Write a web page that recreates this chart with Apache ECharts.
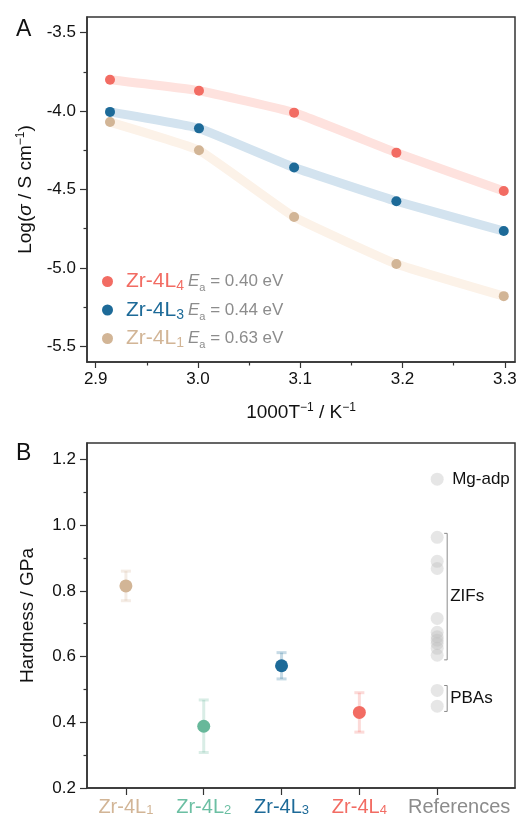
<!DOCTYPE html>
<html>
<head>
<meta charset="utf-8">
<script src="https://cdn.jsdelivr.net/npm/echarts@6/dist/echarts.min.js"></script>
<style>
html,body{margin:0;padding:0;background:#fff;}
#chart{width:518px;height:818px;}
</style>
</head>
<body>
<div id="chart"></div>
<script>
// ---- Panel A data ----
const invT = [2.914, 3.001, 3.094, 3.194, 3.299];
const logL4 = [-3.80, -3.87, -4.01, -4.265, -4.51];
const logL3 = [-4.005, -4.11, -4.36, -4.575, -4.765];
const logL1 = [-4.07, -4.25, -4.675, -4.975, -5.18];
const seriesNames = ['Zr-4L4', 'Zr-4L3', 'Zr-4L1'];
const eaValues = ['0.40', '0.44', '0.63'];
const xTicksA = [2.9, 3.0, 3.1, 3.2, 3.3];
const xMinorA = [2.95, 3.05, 3.15, 3.25];
const yTicksA = [-5.5, -5.0, -4.5, -4.0, -3.5];
const yMinorA = [-5.25, -4.75, -4.25, -3.75];

// ---- Panel B data ----
const hardCats = ['Zr-4L1', 'Zr-4L2', 'Zr-4L3', 'Zr-4L4', 'References'];
const hardness = [0.815, 0.388, 0.572, 0.430];
const hardErr = [0.045, 0.08, 0.04, 0.06];
const refHardness = [1.14, 0.963, 0.89, 0.868, 0.716, 0.674, 0.66, 0.65, 0.64, 0.625, 0.604, 0.497, 0.449];
const refGroups = ['Mg-adp', 'ZIFs', 'PBAs'];
const refLo = [1.14, 0.59, 0.433];
const refHi = [1.14, 0.975, 0.512];
const yTicksB = [0.2, 0.4, 0.6, 0.8, 1.0, 1.2];
const yMinorB = [0.3, 0.5, 0.7, 0.9, 1.1];
const catPositions = [1, 2, 3, 4, 5];
const sampleCatPositions = [1, 2, 3, 4];
const refCatPosition = [5];

// ---- styling ----
const FONT = '"Liberation Sans", Arial, sans-serif';
const C_RED = '#f26c63', C_BLUE = '#1d6a98', C_TAN = '#d2b596', C_GREEN = '#67b89a', C_GREY = '#8c8c8c';
const PALE = { red: '#fee2de', blue: '#d3e3ef', tan: '#fcf2e8' };
const AX = '#333333';
const catColors = [C_TAN, '#6cbfa3', C_BLUE, C_RED, C_GREY];
const ptColors = [C_TAN, C_GREEN, C_BLUE, C_RED];
const errColors = ['rgba(210,181,150,0.25)', 'rgba(103,184,154,0.25)', 'rgba(29,106,152,0.25)', 'rgba(242,108,99,0.25)'];

const legendKey = { 'Zr-4L4': 'r', 'Zr-4L3': 'b', 'Zr-4L1': 't' };
const legendColor = { r: C_RED, b: C_BLUE, t: C_TAN };

function legendRich() {
  const rich = {};
  Object.keys(legendColor).forEach(k => {
    rich[k] = { color: legendColor[k], fontSize: 21, fontFamily: FONT, lineHeight: 24, padding: [0, 0, 0, 8] };
    rich[k + 's'] = { color: legendColor[k], fontSize: 14, fontFamily: FONT, verticalAlign: 'bottom', lineHeight: 12 };
  });
  rich.e = { color: C_GREY, fontSize: 17, fontStyle: 'italic', fontFamily: FONT, lineHeight: 24, padding: [0, 0, 0, 4] };
  rich.es = { color: C_GREY, fontSize: 11, fontFamily: FONT, verticalAlign: 'bottom', lineHeight: 14 };
  rich.g = { color: C_GREY, fontSize: 17, fontFamily: FONT, lineHeight: 24 };
  return rich;
}

const axisLineStyle = { show: true, lineStyle: { color: AX, width: 1.5 } };

function minorAxis(base) {
  return Object.assign({
    axisLine: { show: false },
    axisLabel: { show: false },
    splitLine: { show: false }
  }, base);
}

const catRich = {};
catColors.forEach((c, i) => {
  catRich['c' + i] = { color: c, fontSize: 20, fontFamily: FONT };
  catRich['s' + i] = { color: c, fontSize: 13, fontFamily: FONT, verticalAlign: 'bottom', lineHeight: 10 };
});
catRich.c4.padding = [0, 0, 0, 44];

function catLabel(v) {
  const i = Math.round(v) - 1;
  const name = hardCats[i];
  if (!name) return '';
  const m = name.match(/^(Zr-4L)(\d)$/);
  if (m) return '{c' + i + '|' + m[1] + '}{s' + i + '|' + m[2] + '}';
  return '{c' + i + '|' + name + '}';
}

const chart = echarts.init(document.getElementById('chart'), null, { renderer: 'canvas' });

const option = {
  animation: false,
  backgroundColor: '#fff',
  title: [
    { text: 'A', left: 11, top: 13, textStyle: { fontSize: 23, fontWeight: 'normal', color: '#111', fontFamily: FONT } },
    { text: 'B', left: 11, top: 437, textStyle: { fontSize: 23, fontWeight: 'normal', color: '#111', fontFamily: FONT } }
  ],
  grid: [
    { left: 87, right: 3, top: 17, bottom: 456, show: true, borderColor: AX, borderWidth: 1.5, backgroundColor: 'transparent', containLabel: false, outerBoundsMode: 'none' },
    { left: 87, right: 3, top: 443, bottom: 30, show: true, borderColor: AX, borderWidth: 1.5, backgroundColor: 'transparent', containLabel: false, outerBoundsMode: 'none' }
  ],
  legend: {
    orient: 'vertical',
    left: 97,
    top: 266,
    itemGap: 6,
    itemWidth: 11,
    itemHeight: 11,
    icon: 'circle',
    data: seriesNames,
    selectedMode: false,
    formatter: function (name) {
      const k = legendKey[name];
      const i = seriesNames.indexOf(name);
      return '{' + k + '|Zr-4L}{' + k + 's|' + name.slice(-1) + '}{e|E}{es|a}{g| = ' + eaValues[i] + ' eV}';
    },
    textStyle: { rich: legendRich() }
  },
  xAxis: [
    {
      gridIndex: 0, type: 'value', min: 2.8915, max: 3.31,
      axisLine: axisLineStyle,
      axisTick: { show: true, length: 6, lineStyle: { color: AX, width: 1.2 }, customValues: xTicksA },
      axisLabel: { customValues: xTicksA, color: '#111', fontSize: 17, fontFamily: FONT, margin: 9, formatter: v => v.toFixed(1) },
      splitLine: { show: false },
      name: '{n|1000T}{sup|\u22121}{n| / K}{sup|\u22121}',
      nameLocation: 'middle', nameGap: 40,
      nameTextStyle: { rich: { n: { fontSize: 19, color: '#111', fontFamily: FONT, lineHeight: 22 }, sup: { fontSize: 12, color: '#111', fontFamily: FONT, verticalAlign: 'top', lineHeight: 12 } } }
    },
    minorAxis({ gridIndex: 0, type: 'value', min: 2.8915, max: 3.31, position: 'bottom', axisTick: { show: true, length: 3.5, lineStyle: { color: AX, width: 1.2 }, customValues: xMinorA } }),
    {
      gridIndex: 1, type: 'value', min: 0.5, max: 6,
      axisLine: axisLineStyle,
      axisTick: { show: true, length: 7, lineStyle: { color: AX, width: 1.2 }, customValues: catPositions },
      axisLabel: { customValues: sampleCatPositions, margin: 9, formatter: catLabel, rich: catRich, hideOverlap: false },
      splitLine: { show: false }
    },
    {
      gridIndex: 1, type: 'value', min: 0.5, max: 6, position: 'bottom',
      axisLine: { show: false },
      axisTick: { show: false },
      axisLabel: { customValues: refCatPosition, margin: 9, formatter: catLabel, rich: catRich, showMaxLabel: true, hideOverlap: false },
      splitLine: { show: false }
    }
  ],
  yAxis: [
    {
      gridIndex: 0, type: 'value', min: -5.6, max: -3.4,
      axisLine: axisLineStyle,
      axisTick: { show: true, length: 7, lineStyle: { color: AX, width: 1.2 }, customValues: yTicksA },
      axisLabel: { customValues: yTicksA, color: '#111', fontSize: 17, fontFamily: FONT, margin: 11, formatter: v => v.toFixed(1) },
      splitLine: { show: false },
      name: '{n|Log(}{i|\u03c3}{n| / S cm}{sup|\u22121}{n|)}',
      nameLocation: 'middle', nameGap: 50, nameRotate: 90,
      nameTextStyle: { rich: { n: { fontSize: 19, color: '#111', fontFamily: FONT, lineHeight: 22 }, i: { fontSize: 19, color: '#111', fontStyle: 'italic', fontFamily: FONT, lineHeight: 22 }, sup: { fontSize: 12, color: '#111', fontFamily: FONT, verticalAlign: 'top', lineHeight: 12 } } }
    },
    minorAxis({ gridIndex: 0, type: 'value', min: -5.6, max: -3.4, position: 'left', axisTick: { show: true, length: 3.5, lineStyle: { color: AX, width: 1.2 }, customValues: yMinorA } }),
    {
      gridIndex: 1, type: 'value', min: 0.2, max: 1.25,
      axisLine: axisLineStyle,
      axisTick: { show: true, length: 7, lineStyle: { color: AX, width: 1.2 }, customValues: yTicksB },
      axisLabel: { customValues: yTicksB, color: '#111', fontSize: 17, fontFamily: FONT, margin: 11, formatter: v => v.toFixed(1) },
      splitLine: { show: false },
      name: 'Hardness / GPa',
      nameLocation: 'middle', nameGap: 50, nameRotate: 90,
      nameTextStyle: { fontSize: 19, color: '#111', fontFamily: FONT }
    },
    minorAxis({ gridIndex: 1, type: 'value', min: 0.2, max: 1.25, position: 'left', axisTick: { show: true, length: 3.5, lineStyle: { color: AX, width: 1.2 }, customValues: yMinorB } })
  ],
  series: [
    {
      name: 'Zr-4L1', type: 'line', xAxisIndex: 0, yAxisIndex: 0, smooth: 0.1,
      data: invT.map((x, i) => [x, logL1[i]]),
      lineStyle: { color: PALE.tan, width: 9 }, itemStyle: { color: C_TAN, opacity: 1 }, symbol: 'circle', symbolSize: 10, z: 2
    },
    {
      name: 'Zr-4L3', type: 'line', xAxisIndex: 0, yAxisIndex: 0, smooth: 0.1,
      data: invT.map((x, i) => [x, logL3[i]]),
      lineStyle: { color: PALE.blue, width: 9 }, itemStyle: { color: C_BLUE, opacity: 1 }, symbol: 'circle', symbolSize: 10, z: 3
    },
    {
      name: 'Zr-4L4', type: 'line', xAxisIndex: 0, yAxisIndex: 0, smooth: 0.12,
      data: invT.map((x, i) => [x, logL4[i]]),
      lineStyle: { color: PALE.red, width: 9 }, itemStyle: { color: C_RED, opacity: 1 }, symbol: 'circle', symbolSize: 10, z: 4
    },
    {
      type: 'custom', xAxisIndex: 2, yAxisIndex: 2, z: 2,
      data: hardness.map((h, i) => [i + 1, h, hardErr[i], i]),
      encode: { x: 0, y: 1 },
      renderItem: function (params, api) {
        const x = api.value(0), y = api.value(1), e = api.value(2), idx = api.value(3);
        const top = api.coord([x, y + e]);
        const bot = api.coord([x, y - e]);
        const col = errColors[idx];
        const st = { stroke: col, lineWidth: 3 };
        return {
          type: 'group',
          children: [
            { type: 'line', shape: { x1: top[0], y1: top[1], x2: bot[0], y2: bot[1] }, style: st },
            { type: 'line', shape: { x1: top[0] - 5, y1: top[1], x2: top[0] + 5, y2: top[1] }, style: st },
            { type: 'line', shape: { x1: bot[0] - 5, y1: bot[1], x2: bot[0] + 5, y2: bot[1] }, style: st }
          ]
        };
      }
    },
    {
      type: 'scatter', xAxisIndex: 2, yAxisIndex: 2, z: 3,
      symbol: 'circle', symbolSize: 13,
      data: hardness.map((h, i) => ({ value: [i + 1, h], itemStyle: { color: ptColors[i], opacity: 1 } }))
    },
    {
      type: 'scatter', xAxisIndex: 2, yAxisIndex: 2, z: 3,
      symbol: 'circle', symbolSize: 13,
      itemStyle: { color: 'rgb(190,190,190)', opacity: 0.38 },
      data: refHardness.map(h => [5, h])
    },
    {
      type: 'custom', xAxisIndex: 2, yAxisIndex: 2, z: 4,
      data: refGroups.map((g, i) => [5, refLo[i], refHi[i], i]),
      encode: { x: 0, y: 1 },
      renderItem: function (params, api) {
        const i = api.value(3);
        const pHi = api.coord([api.value(0), api.value(2)]);
        const pLo = api.coord([api.value(0), api.value(1)]);
        const bx = pHi[0] + 10;
        const children = [];
        let tx;
        if (refHi[i] !== refLo[i]) {
          children.push({ type: 'polyline', shape: { points: [[bx - 3, pHi[1]], [bx, pHi[1]], [bx, pLo[1]], [bx - 3, pLo[1]]] }, style: { stroke: '#8a8a8a', lineWidth: 1, fill: null } });
          tx = bx + 3;
        } else {
          tx = pHi[0] + 15;
        }
        children.push({ type: 'text', style: { text: refGroups[i], x: tx, y: (pHi[1] + pLo[1]) / 2, fontSize: 17, fontFamily: FONT, fill: '#111', verticalAlign: 'middle', align: 'left' } });
        return { type: 'group', children: children };
      }
    }
  ]
};

chart.setOption(option);
</script>
</body>
</html>
